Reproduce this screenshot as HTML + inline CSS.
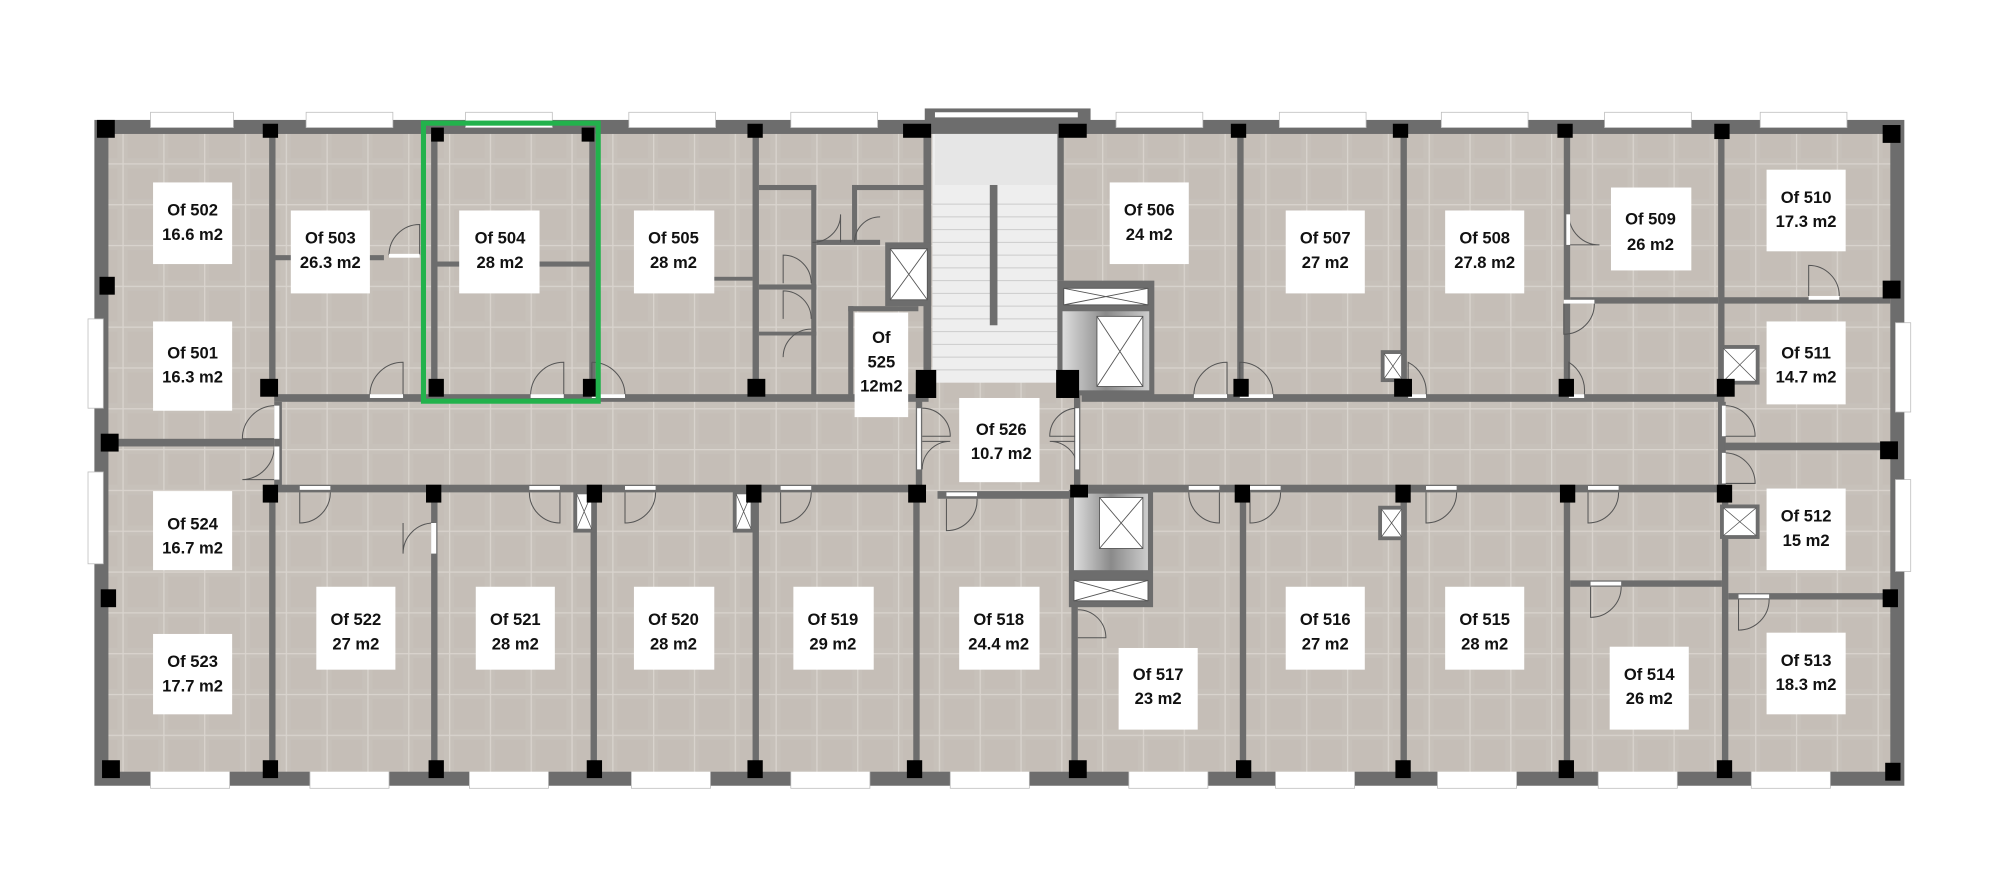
<!DOCTYPE html>
<html><head><meta charset="utf-8"><style>
html,body{margin:0;padding:0;background:#fff;}
svg{display:block}
text{font-family:"Liberation Sans Narrow","Liberation Sans",sans-serif;font-weight:bold;font-size:13px;fill:#111;text-anchor:middle}
</style></head><body>
<svg width="2000" height="891" viewBox="0 0 1568 698.5" xmlns="http://www.w3.org/2000/svg">
<defs>
<pattern id="tile" width="32" height="32" patternUnits="userSpaceOnUse">
<rect width="32" height="32" fill="#c7c1ba"/>
<rect x="4" y="4" width="24" height="24" fill="#c3bdb5" opacity="0.6"/>
<path d="M0 0.5H32M0.5 0V32" stroke="#d9d4ce" stroke-width="1"/>
</pattern>
</defs>
<!-- outer wall -->
<rect x="74" y="94" width="1419" height="522" fill="#6d6d6d"/>
<!-- windows top -->
<g fill="#fff" stroke="#bbb" stroke-width="0.6">
<rect x="118" y="88" width="65" height="12"/><rect x="240" y="88" width="68" height="12"/>
<rect x="365" y="88" width="68" height="12"/><rect x="493" y="88" width="68" height="12"/>
<rect x="620" y="88" width="68" height="12"/><rect x="875" y="88" width="68" height="12"/>
<rect x="1003" y="88" width="68" height="12"/><rect x="1130" y="88" width="68" height="12"/>
<rect x="1258" y="88" width="68" height="12"/><rect x="1380" y="88" width="68" height="12"/>
<rect x="118" y="604" width="62" height="14"/><rect x="243" y="604" width="62" height="14"/>
<rect x="368" y="604" width="62" height="14"/><rect x="495" y="604" width="62" height="14"/>
<rect x="620" y="604" width="62" height="14"/><rect x="745" y="604" width="62" height="14"/>
<rect x="885" y="604" width="62" height="14"/><rect x="1000" y="604" width="62" height="14"/>
<rect x="1127" y="604" width="62" height="14"/><rect x="1253" y="604" width="62" height="14"/>
<rect x="1373" y="604" width="62" height="14"/>
<rect x="69" y="250" width="12" height="70"/><rect x="69" y="370" width="12" height="72"/>
<rect x="1486" y="253" width="12" height="70"/><rect x="1486" y="376" width="12" height="72"/>
</g>
<rect x="725" y="85" width="130" height="10" fill="#6d6d6d"/>
<rect x="733" y="88" width="112" height="4" fill="#fff"/>
<!-- floor -->
<rect x="85" y="105" width="1397" height="500" fill="url(#tile)"/>
<!-- stair -->
<rect x="731" y="105" width="98" height="195" fill="#eeeeee"/>
<g stroke="#ccc" stroke-width="0.8">
<path d="M731 160H829M731 170H829M731 180H829M731 190H829M731 200H829M731 210H829M731 220H829M731 230H829M731 240H829M731 250H829M731 260H829M731 270H829M731 280H829M731 290H829"/>
</g>
<rect x="733" y="105" width="96" height="40" fill="#e2e2e2" opacity="0.7"/>
<rect x="776" y="145" width="6" height="110" fill="#6d6d6d"/>
<!-- walls -->
<g fill="#6d6d6d">
<!-- corridor -->
<rect x="215" y="309" width="513" height="6"/><rect x="848" y="309" width="502" height="6"/>
<rect x="215" y="380" width="505" height="6"/><rect x="735" y="385" width="110" height="6"/><rect x="845" y="380" width="505" height="6"/>
<rect x="215" y="315" width="6" height="70"/><rect x="1347" y="315" width="6" height="70"/>
<rect x="718" y="300" width="5" height="85"/><rect x="842" y="300" width="5" height="90"/>
<!-- top verticals -->
<rect x="211" y="105" width="5" height="205"/><rect x="338" y="105" width="5" height="205"/>
<rect x="462" y="105" width="5" height="205"/><rect x="590" y="105" width="5" height="205"/>
<rect x="724" y="105" width="6" height="195"/><rect x="829" y="105" width="5" height="115"/>
<rect x="970" y="105" width="5" height="205"/><rect x="1098" y="105" width="5" height="205"/>
<rect x="1226" y="105" width="5" height="205"/><rect x="1347" y="105" width="5" height="275"/>
<!-- bottom verticals -->
<rect x="211" y="385" width="5" height="220"/><rect x="338" y="385" width="5" height="220"/>
<rect x="463" y="385" width="5" height="220"/><rect x="590" y="385" width="5" height="220"/>
<rect x="716" y="385" width="5" height="220"/><rect x="840" y="385" width="5" height="220"/>
<rect x="972" y="385" width="5" height="220"/><rect x="1098" y="385" width="5" height="220"/>
<rect x="1226" y="385" width="5" height="220"/><rect x="1350" y="385" width="5" height="220"/>
<!-- horizontals -->
<rect x="85" y="344" width="130" height="6"/>
<rect x="216" y="200" width="85" height="4"/><rect x="343" y="205" width="120" height="4"/>
<rect x="498" y="217" width="92" height="3"/>
<rect x="1231" y="233" width="116" height="5"/><rect x="1352" y="233" width="130" height="5"/>
<rect x="1352" y="347" width="130" height="6"/>
<rect x="1231" y="455" width="119" height="5"/><rect x="1355" y="465" width="127" height="5"/>
<!-- small rooms near 505 -->
<rect x="595" y="145" width="45" height="4"/><rect x="636" y="145" width="4" height="165"/>
<rect x="595" y="223" width="45" height="4"/><rect x="595" y="260" width="45" height="3"/>
<rect x="668" y="145" width="58" height="4"/><rect x="668" y="145" width="4" height="45"/>
<rect x="640" y="188" width="50" height="4"/>
<rect x="665" y="240" width="55" height="4"/><rect x="665" y="240" width="4" height="72"/>
<!-- elevators -->
<rect x="829" y="220" width="76" height="90"/><rect x="838" y="384" width="66" height="92"/>
<rect x="694" y="190" width="36" height="50"/>
</g>
<!-- elevator interiors -->
<defs><linearGradient id="eg" x1="0" x2="1"><stop offset="0" stop-color="#ddd"/><stop offset="0.5" stop-color="#8a8a8a"/><stop offset="1" stop-color="#ccc"/></linearGradient></defs>
<rect x="833" y="244" width="68" height="62" fill="url(#eg)"/>
<rect x="842" y="387" width="58" height="60" fill="url(#eg)"/>
<g fill="#fff" stroke="#555" stroke-width="0.7">
<rect x="834" y="226" width="66" height="13"/><path d="M834 226L900 239M900 226L834 239" fill="none"/>
<rect x="860" y="248" width="36" height="55"/><path d="M860 248L896 303M896 248L860 303" fill="none"/>
<rect x="862" y="390" width="34" height="40"/><path d="M862 390L896 430M896 390L862 430" fill="none"/>
<rect x="842" y="455" width="58" height="16"/><path d="M842 455L900 471M900 455L842 471" fill="none"/>
<rect x="698" y="195" width="29" height="40"/><path d="M698 195L727 235M727 195L698 235" fill="none"/>
</g>
<!-- small shafts -->
<g fill="#fff" stroke="#6d6d6d" stroke-width="3">
<rect x="1084" y="276" width="16" height="22"/><rect x="1350" y="272" width="28" height="28"/>
<rect x="1082" y="398" width="18" height="24"/><rect x="1350" y="397" width="28" height="24"/>
<rect x="451" y="386" width="14" height="30"/><rect x="576" y="386" width="14" height="30"/>
</g>
<g stroke="#555" stroke-width="0.6" fill="none">
<path d="M1085 277L1099 297M1099 277L1085 297M1351 273L1377 299M1377 273L1351 299M1083 399L1099 421M1099 399L1083 421M1351 398L1377 420M1377 398L1351 420M452 387L464 415M464 387L452 415M577 387L589 415M589 387L577 415"/>
</g>
<!-- doors -->
<g fill="none" stroke="#555" stroke-width="0.8">
<path d="M290 310A26 26 0 0 1 316 284V310"/><path d="M416 310A26 26 0 0 1 442 284V310"/>
<path d="M490 310A26 26 0 0 0 464 284"/><path d="M464 284V310"/>
<path d="M305 200A24 24 0 0 1 329 176V200"/>
<path d="M936 310A26 26 0 0 1 962 284V310"/><path d="M998 310A26 26 0 0 0 972 284V310"/>
<path d="M1118 310A26 26 0 0 0 1104 284V310"/><path d="M1242 310A26 26 0 0 0 1230 284V310"/>
<path d="M1230 168A24 24 0 0 0 1254 192H1230"/><path d="M1442 232A24 24 0 0 0 1418 208V232"/>
<path d="M1250 238A24 24 0 0 1 1226 262V238"/>
<path d="M1352 318A24 24 0 0 1 1376 342H1352"/><path d="M1352 355A24 24 0 0 1 1376 379H1352"/>
<path d="M215 318A26 26 0 0 0 190 344H215"/><path d="M215 350A26 26 0 0 1 190 376H215"/>
<path d="M235 386V410A24 24 0 0 0 259 386"/><path d="M340 410A24 24 0 0 0 316 434V410"/>
<path d="M415 386A24 24 0 0 0 439 410V386"/><path d="M490 386V410A24 24 0 0 0 514 386"/>
<path d="M612 386V410A24 24 0 0 0 636 386"/><path d="M742 391V416A24 24 0 0 0 766 391"/>
<path d="M932 386A24 24 0 0 0 956 410V386"/><path d="M980 386V410A24 24 0 0 0 1004 386"/>
<path d="M1118 386V410A24 24 0 0 0 1142 386"/><path d="M1245 386V410A24 24 0 0 0 1269 386"/>
<path d="M1247 460V484A24 24 0 0 0 1271 460"/><path d="M1363 470V494A24 24 0 0 0 1387 470"/>
<path d="M845 478A22 22 0 0 1 867 500H845"/>
<path d="M637 190A22 22 0 0 0 659 168V190"/><path d="M670 190A20 20 0 0 1 690 170"/>
<path d="M636 222A22 22 0 0 0 614 200V222"/><path d="M636 250A22 22 0 0 0 614 228V250"/><path d="M636 258A22 22 0 0 0 614 280"/>
<path d="M723 320A22 22 0 0 1 745 342H723"/><path d="M723 368A22 22 0 0 1 745 346H723"/>
<path d="M845 320A22 22 0 0 0 823 342H845"/><path d="M845 368A22 22 0 0 0 823 346H845"/>
</g>
<g fill="#fff">
<rect x="290" y="309" width="26" height="3"/><rect x="416" y="309" width="26" height="3"/><rect x="464" y="309" width="26" height="3"/>
<rect x="936" y="309" width="26" height="3"/><rect x="972" y="309" width="26" height="3"/><rect x="1104" y="309" width="14" height="3"/><rect x="1230" y="309" width="12" height="3"/>
<rect x="1350" y="318" width="3" height="24"/><rect x="1350" y="355" width="3" height="24"/>
<rect x="215" y="318" width="4" height="26"/><rect x="215" y="350" width="4" height="26"/>
<rect x="1228" y="168" width="3" height="24"/><rect x="1418" y="232" width="24" height="3"/><rect x="1226" y="235" width="24" height="3"/>
<rect x="235" y="381" width="24" height="3"/><rect x="338" y="410" width="4" height="24"/><rect x="415" y="381" width="24" height="3"/>
<rect x="490" y="381" width="24" height="3"/><rect x="612" y="381" width="24" height="3"/><rect x="742" y="386" width="24" height="3"/>
<rect x="932" y="381" width="24" height="3"/><rect x="980" y="381" width="24" height="3"/><rect x="1118" y="381" width="24" height="3"/>
<rect x="1245" y="381" width="24" height="3"/><rect x="1247" y="456" width="24" height="3"/><rect x="1363" y="466" width="24" height="3"/>
<rect x="719" y="320" width="3" height="48"/><rect x="843" y="320" width="3" height="48"/>
<rect x="305" y="199" width="24" height="3"/>
</g>
<!-- columns -->
<g fill="#000">
<rect x="76" y="94" width="14" height="14"/><rect x="206" y="97" width="12" height="11"/><rect x="338" y="100" width="10" height="11"/>
<rect x="456" y="100" width="10" height="11"/><rect x="586" y="97" width="12" height="11"/><rect x="708" y="97" width="22" height="11"/>
<rect x="830" y="97" width="22" height="11"/><rect x="965" y="97" width="12" height="11"/><rect x="1092" y="97" width="12" height="11"/>
<rect x="1221" y="97" width="12" height="11"/><rect x="1344" y="97" width="12" height="12"/><rect x="1476" y="98" width="14" height="14"/>
<rect x="78" y="217" width="12" height="14"/><rect x="1476" y="220" width="14" height="14"/>
<rect x="204" y="297" width="14" height="14"/><rect x="336" y="297" width="12" height="14"/><rect x="457" y="297" width="12" height="14"/>
<rect x="586" y="297" width="14" height="14"/><rect x="718" y="290" width="16" height="22"/><rect x="828" y="290" width="18" height="22"/>
<rect x="967" y="297" width="12" height="14"/><rect x="1093" y="297" width="14" height="14"/><rect x="1222" y="297" width="12" height="14"/>
<rect x="1346" y="297" width="14" height="14"/>
<rect x="79" y="340" width="14" height="14"/><rect x="1474" y="346" width="14" height="14"/>
<rect x="206" y="380" width="12" height="14"/><rect x="334" y="380" width="12" height="14"/><rect x="460" y="380" width="12" height="14"/>
<rect x="585" y="380" width="12" height="14"/><rect x="712" y="380" width="14" height="14"/><rect x="839" y="380" width="14" height="10"/>
<rect x="968" y="380" width="12" height="14"/><rect x="1094" y="380" width="12" height="14"/><rect x="1223" y="380" width="12" height="14"/>
<rect x="1346" y="380" width="12" height="14"/><rect x="1476" y="462" width="12" height="14"/><rect x="79" y="462" width="12" height="14"/>
<rect x="80" y="596" width="14" height="14"/><rect x="206" y="596" width="12" height="14"/><rect x="336" y="596" width="12" height="14"/>
<rect x="460" y="596" width="12" height="14"/><rect x="586" y="596" width="12" height="14"/><rect x="711" y="596" width="12" height="14"/>
<rect x="838" y="596" width="14" height="14"/><rect x="969" y="596" width="12" height="14"/><rect x="1094" y="596" width="12" height="14"/>
<rect x="1222" y="596" width="12" height="14"/><rect x="1346" y="596" width="12" height="14"/><rect x="1478" y="598" width="12" height="14"/>
</g>
<!-- green highlight -->
<rect x="332" y="96.5" width="137" height="218" fill="none" stroke="#22b24c" stroke-width="4"/>
<!-- labels -->
<g fill="#fff">
<rect x="120" y="143" width="62" height="64"/><rect x="120" y="252" width="62" height="70"/>
<rect x="228" y="165" width="62" height="65"/><rect x="360" y="165" width="63" height="65"/>
<rect x="497" y="165" width="63" height="65"/><rect x="870" y="143" width="62" height="64"/>
<rect x="1008" y="165" width="62" height="65"/><rect x="1133" y="165" width="62" height="65"/>
<rect x="1263" y="147" width="63" height="65"/><rect x="1385" y="133" width="62" height="64"/>
<rect x="1385" y="252" width="62" height="65"/><rect x="1385" y="383" width="62" height="64"/>
<rect x="1385" y="496" width="62" height="64"/><rect x="1262" y="507" width="62" height="65"/>
<rect x="1133" y="460" width="62" height="65"/><rect x="1008" y="460" width="62" height="65"/>
<rect x="877" y="508" width="62" height="64"/><rect x="752" y="460" width="63" height="65"/>
<rect x="622" y="460" width="63" height="65"/><rect x="497" y="460" width="63" height="65"/>
<rect x="373" y="460" width="62" height="65"/><rect x="248" y="460" width="62" height="65"/>
<rect x="120" y="497" width="62" height="63"/><rect x="120" y="385" width="62" height="62"/>
<rect x="670" y="245" width="42" height="82"/><rect x="752" y="312" width="63" height="66"/>
</g>
<text x="151" y="169">Of 502</text><text x="151" y="188">16.6 m2</text>
<text x="151" y="281">Of 501</text><text x="151" y="300">16.3 m2</text>
<text x="259" y="191">Of 503</text><text x="259" y="210">26.3 m2</text>
<text x="392" y="191">Of 504</text><text x="392" y="210">28 m2</text>
<text x="528" y="191">Of 505</text><text x="528" y="210">28 m2</text>
<text x="901" y="169">Of 506</text><text x="901" y="188">24 m2</text>
<text x="1039" y="191">Of 507</text><text x="1039" y="210">27 m2</text>
<text x="1164" y="191">Of 508</text><text x="1164" y="210">27.8 m2</text>
<text x="1294" y="176">Of 509</text><text x="1294" y="196">26 m2</text>
<text x="1416" y="159">Of 510</text><text x="1416" y="178">17.3 m2</text>
<text x="1416" y="281">Of 511</text><text x="1416" y="300">14.7 m2</text>
<text x="1416" y="409">Of 512</text><text x="1416" y="428">15 m2</text>
<text x="1416" y="522">Of 513</text><text x="1416" y="541">18.3 m2</text>
<text x="1293" y="533">Of 514</text><text x="1293" y="552">26 m2</text>
<text x="1164" y="490">Of 515</text><text x="1164" y="509">28 m2</text>
<text x="1039" y="490">Of 516</text><text x="1039" y="509">27 m2</text>
<text x="908" y="533">Of 517</text><text x="908" y="552">23 m2</text>
<text x="783" y="490">Of 518</text><text x="783" y="509">24.4 m2</text>
<text x="653" y="490">Of 519</text><text x="653" y="509">29 m2</text>
<text x="528" y="490">Of 520</text><text x="528" y="509">28 m2</text>
<text x="404" y="490">Of 521</text><text x="404" y="509">28 m2</text>
<text x="279" y="490">Of 522</text><text x="279" y="509">27 m2</text>
<text x="151" y="523">Of 523</text><text x="151" y="542">17.7 m2</text>
<text x="151" y="415">Of 524</text><text x="151" y="434">16.7 m2</text>
<text x="691" y="269">Of</text><text x="691" y="288">525</text><text x="691" y="307">12m2</text>
<text x="785" y="341">Of 526</text><text x="785" y="360">10.7 m2</text>
</svg>
</body></html>
